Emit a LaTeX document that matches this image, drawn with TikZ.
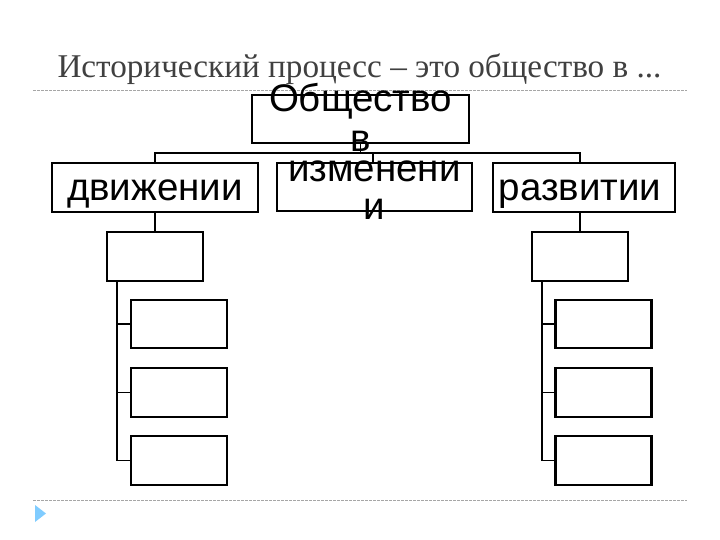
\documentclass[tikz,border=0pt]{standalone}
\usepackage{fontspec}
\setmainfont{Liberation Serif}
\setsansfont{Liberation Sans}
\usepackage{tikz}

\begin{document}
\begin{tikzpicture}[x=1pt, y=-1pt,
    box/.style={draw, line width=1.7pt, minimum width=#1, minimum height=48pt, inner sep=0pt},
    subbox/.style={draw, line width=2.8pt, minimum width=96pt, minimum height=48pt, inner sep=0pt},
    lbl/.style={font=\sffamily\fontsize{38.5}{40}\selectfont, anchor=base, inner sep=0pt},
    link/.style={line width=1.7pt},
    rule/.style={gray!70, line width=0.8pt, dash pattern=on 3pt off 1pt}]
\useasboundingbox (0,0) rectangle (720,540);
% title and rules
\node[anchor=base, text=black!75, font=\fontsize{33.2}{38}\selectfont] (head) at (359.5,78) {Исторический процесс – это общество в ...};
\coordinate (r1a) at (33,90);  \coordinate (r1b) at (687,90);
\coordinate (r2a) at (33,500); \coordinate (r2b) at (687,500);
\draw[rule] (r1a) -- (r1b);
\draw[rule] (r2a) -- (r2b);
\fill[blue!40!cyan!50!white] (35,505) -- (35,522) -- (46,513.5) -- cycle;
% boxes
\node[box=217pt] (top) at (360.5,119) {};
\node[box=206pt, minimum height=49pt] (move) at (155,187.5) {};
\node[box=195pt] (change) at (374.5,187) {};
\node[box=182pt, minimum height=49pt] (grow) at (584,187.5) {};
\node[subbox, minimum height=49pt] (l0) at (155,256.5) {};
\node[subbox] (l1) at (179,324) {};
\node[subbox, minimum height=49pt] (l2) at (179,392.5) {};
\node[subbox, minimum height=49pt] (l3) at (179,460.5) {};
\node[subbox, minimum height=49pt] (r0) at (580,256.5) {};
\node[subbox] (r1) at (603.5,324) {};
\node[subbox, minimum height=49pt] (r2) at (603.5,392.5) {};
\node[subbox, minimum height=49pt] (r3) at (603.5,460.5) {};
% connectors
\coordinate (busl) at (155,153);
\coordinate (busr) at (580,153);
\draw[link] (move.north) -- (busl) -- (busr) -- (grow.north -| busr);
\draw[link] (top.south) -- (top.south |- busl);
\draw[link] (change.north -| 373,0) -- (373,153);
\draw[link] (move.south) -- (l0.north);
\draw[link] (grow.south -| busr) -- (r0.north);
\coordinate (lt) at (117,281);
\coordinate (rt) at (542,281);
\draw[link] (lt) -- (lt |- l3.west) -- (l3.west);
\draw[link] (lt |- l1.west) -- (l1.west);
\draw[link] (lt |- l2.west) -- (l2.west);
\draw[link] (rt) -- (rt |- r3.west) -- (r3.west);
\draw[link] (rt |- r1.west) -- (r1.west);
\draw[link] (rt |- r2.west) -- (r2.west);
% texts
\node[lbl] (toptext) at (360.5,112) {Общество};
\node[lbl] (toptext2) at (360.5,152) {в};
\node[lbl] (movetext) at (155,201) {движении};
\node[lbl] (changetext) at (374.5,182) {изменени};
\node[lbl] (changetext2) at (374.5,220) {и};
\node[lbl] (growtext) at (580,201) {развитии};
\end{tikzpicture}
\end{document}
